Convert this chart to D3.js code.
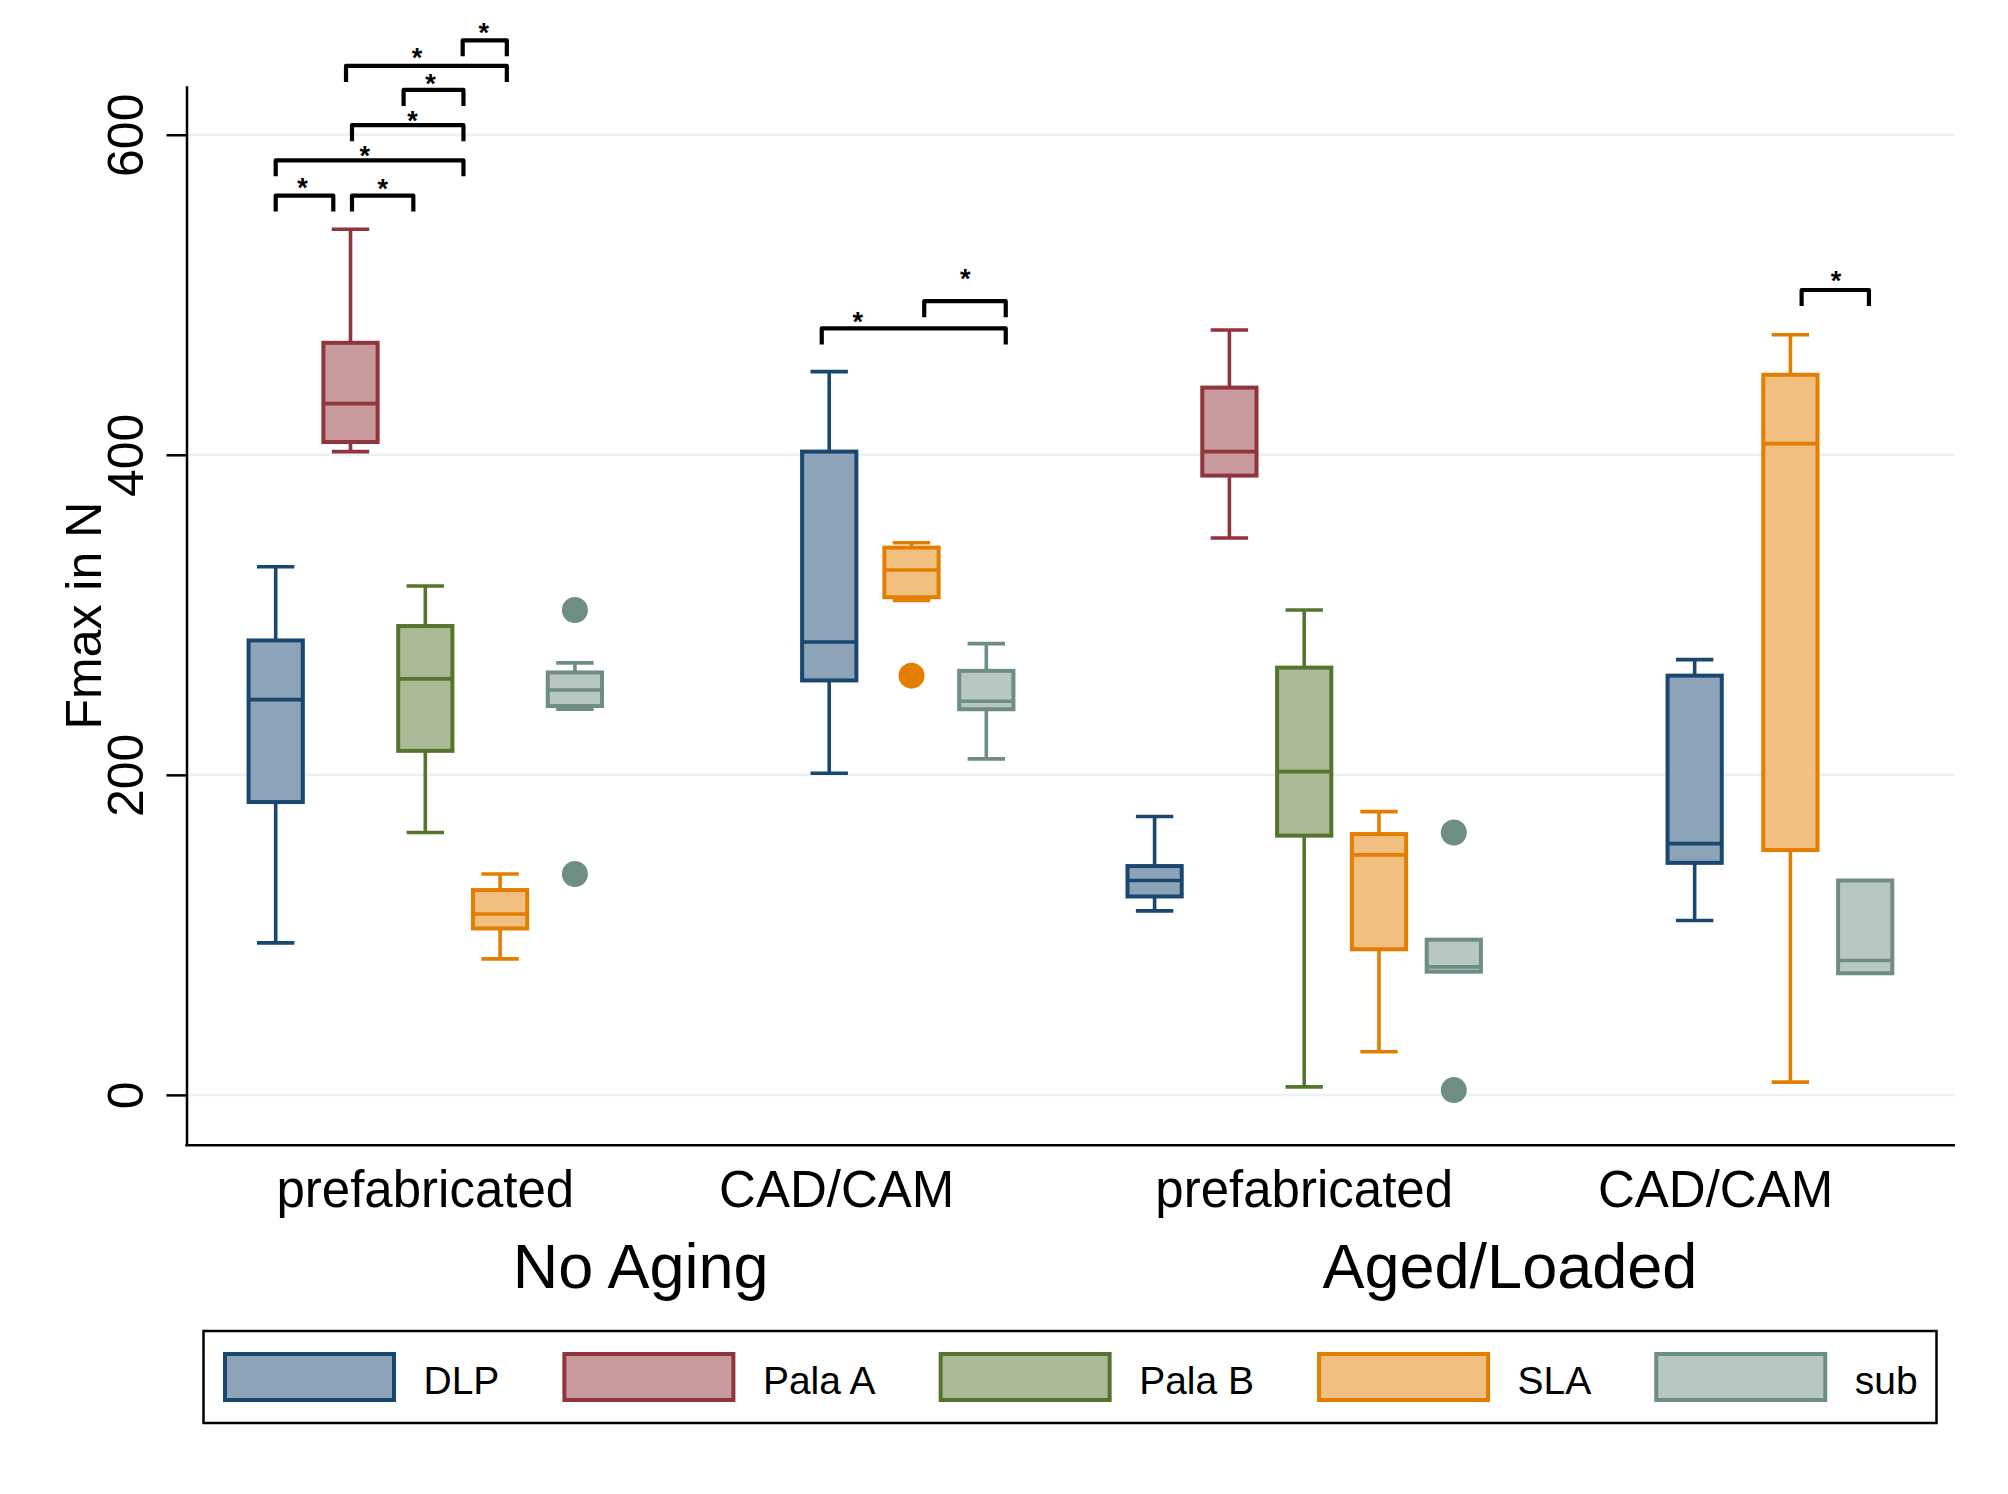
<!DOCTYPE html>
<html><head><meta charset="utf-8">
<script src="https://cdn.jsdelivr.net/npm/d3@7"></script>
<style>
body{margin:0;background:#fff}
svg{display:block}
text{font-family:"Liberation Sans",Arial,Helvetica,sans-serif;fill:#000}
</style>
</head><body>
<svg id="chart" width="2008" height="1494"></svg>
<script>
// ---------- data ----------
const agingLevels = ["No Aging", "Aged/Loaded"];
const typeLevels = ["prefabricated", "CAD/CAM"];
const materials = ["DLP", "Pala A", "Pala B", "SLA", "sub"];
const materialColors = ["#1a476f", "#90353b", "#55752f", "#e37e00", "#6e8e84"];
const yTicks = [0, 200, 400, 600];

// one entry per box
const boxAging    = [0,0,0,0,0, 0,0,0, 1,1,1,1,1, 1,1,1];
const boxType     = [0,0,0,0,0, 1,1,1, 0,0,0,0,0, 1,1,1];
const boxMaterial = ["DLP","Pala A","Pala B","SLA","sub", "DLP","SLA","sub",
                     "DLP","Pala A","Pala B","SLA","sub", "DLP","SLA","sub"];
const whiskerLow  = [95, 402, 164, 85, 241,  201, 309, 210,  115, 348,   5,  27, 77,  109,   8, 76];
const q1          = [183, 408, 215, 104, 243, 259, 311, 241,  124, 387, 162,  91, 77,  145, 153, 76];
const median      = [247, 432, 260, 113, 253, 283, 328, 246,  134, 402, 202, 150, 80,  157, 407, 84];
const q3          = [284, 470, 293, 128, 264, 402, 342, 265,  143, 442, 267, 163, 97,  262, 450, 134];
const whiskerHigh = [330, 541, 318, 138, 270, 452, 345, 282,  174, 478, 303, 177, 97,  272, 475, 134];

// outside values
const outlierBox   = [4, 4, 6, 12, 12];
const outlierValue = [303, 138, 262, 164, 3];

// significance brackets (x in box-slot units, y in N)
const bracketX1  = [2.50, 0.94, 1.71, 1.02, 0.00, 0.00, 1.02, 7.30, 8.67, 20.40];
const bracketX2  = [3.09, 3.09, 2.51, 2.51, 2.51, 0.77, 1.84, 9.76, 9.76, 21.30];
const bracketTop = [659, 643, 628, 606, 584, 562, 562, 479, 496, 503];
const starX      = [2.78, 1.89, 2.07, 1.83, 1.19, 0.36, 1.43, 7.78, 9.22, 20.86];
const starY      = [667, 651, 635, 612, 590, 570, 569, 486, 513, 512];

// ---------- layout ----------
const svg = d3.select("#chart");
const plotLeft = 186.5, plotRight = 1955, plotTop = 85.8, plotBottom = 1145.3;

const y = d3.scaleLinear().domain([-31.5, 630.6]).range([plotBottom, plotTop]);
const x = d3.scaleLinear().domain([0, 21.25]).range([275.7, 1865.2]);

const groupStart = [[0, 5.5], [11.75, 17.25]]; // [aging][type]
const cadFirstSlot = [1.9, 1.72];               // first box of the 3-box groups
function slotOf(i) {
  const m = materials.indexOf(boxMaterial[i]);
  if (boxType[i] === 1 && m === 0) return cadFirstSlot[boxAging[i]];
  return m;
}
function unitOf(i) { return groupStart[boxAging[i]][boxType[i]] + slotOf(i); }
const colorOf = name => materialColors[materials.indexOf(name)];
const fillOf = name => d3.interpolateRgb(colorOf(name), "#ffffff")(0.5);

const boxHalf = (x(0.725) - x(0)) / 2;
const capHalf = (x(0.5) - x(0)) / 2;
const lw = 3.6;

// gridlines
svg.append("g").selectAll("line").data(yTicks).join("line")
  .attr("x1", plotLeft).attr("x2", plotRight)
  .attr("y1", d => y(d)).attr("y2", d => y(d))
  .attr("stroke", "#eaf2f3").attr("stroke-width", 2.5);

// y axis
const yAxis = svg.append("g").attr("transform", `translate(${plotLeft},0)`)
  .call(d3.axisLeft(y).tickValues(yTicks).tickSize(20).tickSizeOuter(0).tickFormat(d3.format("d")));
yAxis.select(".domain").attr("stroke", "#000").attr("stroke-width", 2.5);
yAxis.selectAll(".tick line").attr("stroke", "#000").attr("stroke-width", 2.5);
yAxis.selectAll(".tick text")
  .attr("transform", "rotate(-90)")
  .attr("x", 0).attr("y", -44).attr("dy", null)
  .attr("text-anchor", "middle")
  .style("font-size", "50px")
  .style("font-family", "'Liberation Sans',Arial,sans-serif");

// bottom axis line
svg.append("line")
  .attr("x1", plotLeft - 1.25).attr("x2", plotRight)
  .attr("y1", plotBottom).attr("y2", plotBottom)
  .attr("stroke", "#000").attr("stroke-width", 2.5);

// y title
svg.append("text")
  .attr("transform", `translate(101,${y(299.5)}) rotate(-90)`)
  .attr("text-anchor", "middle")
  .style("font-size", "50px")
  .text("Fmax in N");

// boxes
const idx = d3.range(boxMaterial.length);
const boxes = svg.append("g").selectAll("g").data(idx).join("g");
boxes.each(function(i) {
  const g = d3.select(this);
  const cx = x(unitOf(i));
  const col = colorOf(boxMaterial[i]);
  g.append("line").attr("x1", cx).attr("x2", cx)
    .attr("y1", y(q3[i])).attr("y2", y(whiskerHigh[i]))
    .attr("stroke", col).attr("stroke-width", lw);
  g.append("line").attr("x1", cx).attr("x2", cx)
    .attr("y1", y(q1[i])).attr("y2", y(whiskerLow[i]))
    .attr("stroke", col).attr("stroke-width", lw);
  if (whiskerHigh[i] > q3[i]) {
    g.append("line").attr("x1", cx - capHalf).attr("x2", cx + capHalf)
      .attr("y1", y(whiskerHigh[i])).attr("y2", y(whiskerHigh[i]))
      .attr("stroke", col).attr("stroke-width", lw);
  }
  if (whiskerLow[i] < q1[i]) {
    g.append("line").attr("x1", cx - capHalf).attr("x2", cx + capHalf)
      .attr("y1", y(whiskerLow[i])).attr("y2", y(whiskerLow[i]))
      .attr("stroke", col).attr("stroke-width", lw);
  }
  g.append("rect")
    .attr("x", cx - boxHalf).attr("width", boxHalf * 2)
    .attr("y", y(q3[i])).attr("height", y(q1[i]) - y(q3[i]))
    .attr("fill", fillOf(boxMaterial[i]))
    .attr("stroke", col).attr("stroke-width", lw + 0.4);
  g.append("line").attr("x1", cx - boxHalf).attr("x2", cx + boxHalf)
    .attr("y1", y(median[i])).attr("y2", y(median[i]))
    .attr("stroke", col).attr("stroke-width", lw);
});

// outliers
svg.append("g").selectAll("circle").data(d3.range(outlierBox.length)).join("circle")
  .attr("cx", k => x(unitOf(outlierBox[k])))
  .attr("cy", k => y(outlierValue[k]))
  .attr("r", 13)
  .attr("fill", k => colorOf(boxMaterial[outlierBox[k]]));

// brackets
const legPx = 16;
const br = svg.append("g");
br.selectAll("path").data(d3.range(bracketX1.length)).join("path")
  .attr("d", k => {
    const x1 = x(bracketX1[k]), x2 = x(bracketX2[k]), yt = y(bracketTop[k]);
    return `M${x1},${yt + legPx} L${x1},${yt} L${x2},${yt} L${x2},${yt + legPx}`;
  })
  .attr("fill", "none").attr("stroke", "#000").attr("stroke-width", 4.2)
  .attr("stroke-linejoin", "round");
br.selectAll("text").data(d3.range(starX.length)).join("text")
  .attr("x", k => x(starX[k]))
  .attr("y", k => y(starY[k]) + 14)
  .attr("text-anchor", "middle")
  .style("font-size", "27px").style("font-weight", "bold")
  .text("*");

// category labels
const typeLab = svg.append("g");
agingLevels.forEach((a, ai) => {
  typeLevels.forEach((t, ti) => {
    typeLab.append("text")
      .attr("x", x(groupStart[ai][ti] + 2))
      .attr("y", 1207)
      .attr("text-anchor", "middle")
      .style("font-size", "51px")
      .text(t);
  });
  const c = (groupStart[ai][0] + groupStart[ai][1]) / 2 + 2 + (ai === 0 ? 0.13 : 0);
  typeLab.append("text")
    .attr("x", x(c))
    .attr("y", 1288)
    .attr("text-anchor", "middle")
    .style("font-size", "63px")
    .text(a);
});

// legend
const leg = svg.append("g");
leg.append("rect").attr("x", 203.5).attr("y", 1331).attr("width", 1733).attr("height", 92)
  .attr("fill", "#fff").attr("stroke", "#000").attr("stroke-width", 2.5);
let lx = 225;
materials.forEach((m, mi) => {
  leg.append("rect").attr("x", lx).attr("y", 1354).attr("width", 169).attr("height", 46)
    .attr("fill", fillOf(m)).attr("stroke", materialColors[mi]).attr("stroke-width", 4);
  const t = leg.append("text").attr("x", lx + 169 + 29.5).attr("y", 1394)
    .style("font-size", "39px").text(m);
  lx = lx + 169 + 29.5 + t.node().getComputedTextLength() + 65;
});
</script>
</body></html>
